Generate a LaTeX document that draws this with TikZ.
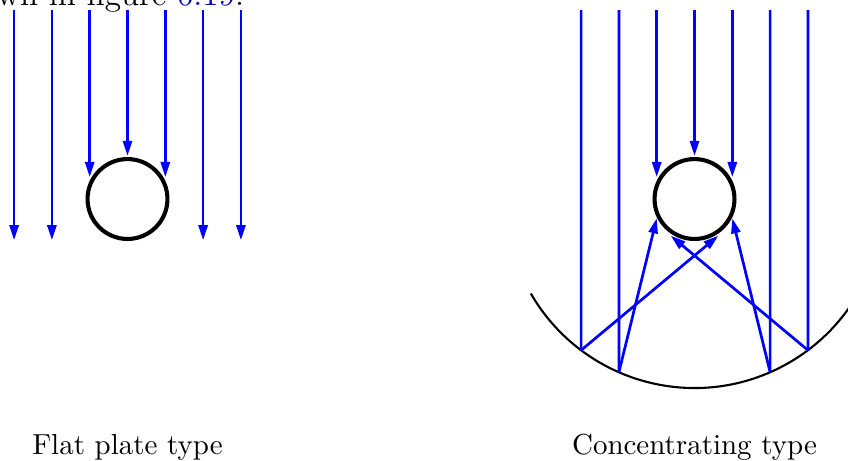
\documentclass[tikz,border=0pt]{standalone}
\usepackage{xcolor}
\usetikzlibrary{arrows.meta,calc}
\tikzset{
  ray/.style={-{Triangle[length=5pt,width=3pt]}, blue, line width=0.9pt},
  beam/.style={blue, line width=0.9pt},
  tube/.style={draw=black, circle, line width=1.35pt, minimum size=0.93cm, inner sep=0pt},
  mirror/.style={black, line width=0.7pt},
  lbl/.style={font=\fontsize{9.6}{11}\selectfont, anchor=center}
}
\begin{document}
\begin{tikzpicture}[scale=0.44]
\useasboundingbox (-3.373,-6.93) rectangle (19.06,5.265);
\clip (-3.373,-6.93) rectangle (19.06,5.265);
% text cut off at the top of the picture
\node[anchor=base east, inner sep=0pt, font=\fontsize{11}{13}\selectfont] (cuttext) at (3.1,5.12) {wn in figure \textcolor{blue!70!black}{6.19}.};
% flat plate absorber
\node[tube] (plate) at (0,0) {};
\foreach \x in {-3,-2,2,3} {
  \draw[ray] (\x,5) -- (\x,-1.09);
}
\foreach \x in {-1,1} {
  \draw[ray] (\x,5) -- (\x,0.58);
}
\draw[ray] (0,5) -- (0,1.14);
\node[lbl] (platelbl) at (0,-6.57) {Flat plate type};
% concentrating absorber
\node[tube] (conc) at (15,0) {};
\draw[mirror] (15,0) ++(210:5) arc (210:330:5);
\foreach \x in {-1,1} {
  \draw[ray] (15+\x,5) -- (15+\x,0.58);
}
\draw[ray] (15,5) -- (15,1.14);
% incoming beams down to the mirror
\coordinate (ml3) at (12,-4);
\coordinate (ml2) at (13,-4.58);
\coordinate (mr2) at (17,-4.58);
\coordinate (mr3) at (18,-4);
\draw[beam] (12,5) -- (ml3);
\draw[beam] (13,5) -- (ml2);
\draw[beam] (17,5) -- (mr2);
\draw[beam] (18,5) -- (mr3);
% reflected beams
\draw[ray] (ml3) -- (15.63,-0.97);
\draw[ray] (ml2) -- (14,-0.51);
\draw[ray] (mr2) -- (16,-0.51);
\draw[ray] (mr3) -- (14.37,-0.97);
\node[lbl] (conclbl) at (15,-6.57) {Concentrating type};
\end{tikzpicture}
\end{document}
